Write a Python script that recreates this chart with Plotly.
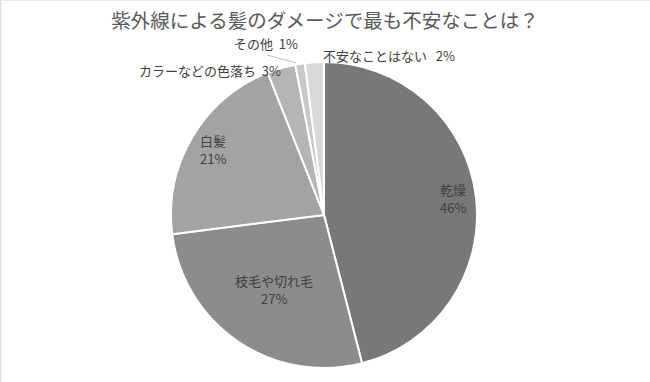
import math
import plotly.graph_objects as go

title = "紫外線による髪のダメージで最も不安なことは？"
categories = ["乾燥", "枝毛や切れ毛", "白髪", "カラーなどの色落ち", "その他", "不安なことはない"]
values = [46, 27, 21, 3, 1, 2]
colors = ["#787878", "#8c8c8c", "#a3a3a3", "#b5b5b5", "#c8c8c8", "#d9d9d9"]

W, H = 650, 382
CX, CY, R = 324, 215, 153  # pixel centre / radius of pie

# label placement (layout only)
inside_r = {0: 0.85, 1: 0.585, 2: 0.84}
outside_pos = {3: (210, 70), 4: (266, 43), 5: (389, 55)}
gaps = {3: "  ", 4: "  ", 5: "   "}

fig = go.Figure(go.Pie(
    labels=categories, values=values, sort=False, direction="clockwise", rotation=0,
    marker=dict(colors=colors, line=dict(color="white", width=2)),
    textinfo="none", hoverinfo="label+percent", showlegend=False,
    domain=dict(x=[(CX - R) / W, (CX + R) / W], y=[(H - CY - R) / H, (H - CY + R) / H]),
))

total = sum(values)
cum = 0
annotations = []
shapes = []
font_main = "Noto Sans CJK JP"
lab_font = dict(size=13, color="#404040", family=font_main)


def ann(px, py, text):
    return dict(x=px / W, y=1 - py / H, xref="paper", yref="paper", text=text,
                showarrow=False, xanchor="center", yanchor="middle", font=lab_font,
                borderpad=0)


for i, (c, v) in enumerate(zip(categories, values)):
    mid = (cum + v / 2) / total * 2 * math.pi
    cum += v
    pct = f"{round(v / total * 100)}%"
    dx, dy = math.sin(mid), math.cos(mid)
    if i in inside_r:
        rr = inside_r[i] * R
        px, py = CX + dx * rr, CY - dy * rr
        annotations.append(ann(px, py - 9, c))
        annotations.append(ann(px, py + 9, pct))
    else:
        px, py = outside_pos[i]
        annotations.append(ann(px, py, f"{c}{gaps[i]}{pct}"))
        if i == 4:
            ex, ey = CX + dx * R, CY - dy * R
            shapes.append(dict(type="line", xref="paper", yref="paper",
                               x0=267 / W, y0=1 - 55 / H, x1=(ex - 4) / W, y1=1 - (ey - 1) / H,
                               line=dict(color="#bfbfbf", width=1)))

# faint frame on left and top edges
shapes.append(dict(type="line", xref="paper", yref="paper", x0=0.001, y0=0, x1=0.001, y1=1,
                   line=dict(color="#d9d9d9", width=1)))
shapes.append(dict(type="line", xref="paper", yref="paper", x0=0, y0=0.999, x1=1, y1=0.999,
                   line=dict(color="#e6e6e6", width=1)))

fig.update_layout(
    width=W, height=H, margin=dict(l=0, r=0, t=0, b=0),
    paper_bgcolor="white", plot_bgcolor="white",
    title=dict(text=title, x=0.5, y=1 - 21 / H, xanchor="center", yanchor="middle",
               font=dict(size=19.5, color="#595959", family=font_main)),
    annotations=annotations, shapes=shapes,
)
fig.write_html("out.html", config={"displayModeBar": False},
               post_script="document.body.style.margin='0px';")
